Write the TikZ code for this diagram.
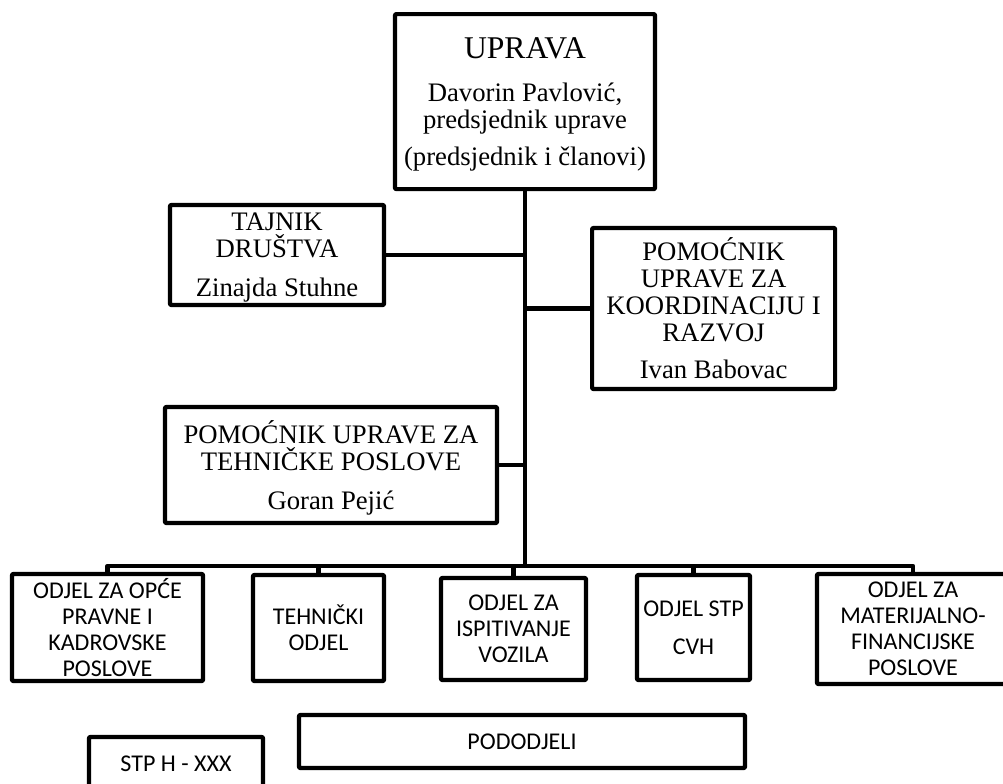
\documentclass[tikz,border=0pt]{standalone}
\usepackage{fontspec}
\setmainfont{Liberation Serif}
\newfontfamily\calibri{Carlito}
\usepackage{tikz}
\usetikzlibrary{shapes}
\pgfdeclarelayer{edgelayer}
\pgfdeclarelayer{nodelayer}
\pgfsetlayers{edgelayer,nodelayer,main}
\newcommand{\tnrfont}{\fontsize{19}{19.2}\selectfont}
\newcommand{\calfont}{\calibri\fontsize{17.1}{18.5}\selectfont}
\tikzstyle{none}=[inner sep=0pt]
\tikzstyle{upbox}=[draw, line width=2.9pt, line join=round, rounded corners=0.6pt, font=\tnrfont, align=center, inner sep=0pt, text depth=0pt]
\tikzstyle{odbox}=[draw, line width=2.9pt, line join=round, rounded corners=0.6pt, font=\calfont, align=center, inner sep=0pt, text depth=0pt]
\tikzstyle{edge}=[line width=3.4pt, line join=round]

\begin{document}
\begin{tikzpicture}
	\useasboundingbox (0, 0) rectangle (25.075, -19.6);
	\begin{pgfonlayer}{nodelayer}
		\node [style=upbox, minimum width=6.5cm, minimum height=4.375cm] (1) at (13.125, -2.54) {{\fontsize{22.5}{23}\selectfont UPRAVA}\\[11.4pt]Davorin Pavlović,\\predsjednik uprave\\[7.4pt](predsjednik i članovi)};
		\node [style=upbox, minimum width=5.35cm, minimum height=2.5cm] (2) at (6.925, -6.375) {TAJNIK\\DRUŠTVA\\[8.7pt]Zinajda Stuhne};
		\node [style=upbox, minimum width=6.075cm, minimum height=4.025cm] (3) at (17.84, -7.7125) {POMOĆNIK\\UPRAVE ZA\\KOORDINACIJU I\\RAZVOJ\\[7.1pt]Ivan Babovac};
		\node [style=upbox, minimum width=8.3cm, minimum height=2.9cm] (4) at (8.275, -11.625) {POMOĆNIK UPRAVE ZA\\TEHNIČKE POSLOVE\\[8.3pt]Goran Pejić};
		\node [style=odbox, minimum width=4.775cm, minimum height=2.675cm] (5) at (2.6875, -15.6875) {ODJEL ZA OPĆE\\PRAVNE I\\KADROVSKE\\POSLOVE};
		\node [style=odbox, minimum width=3.275cm, minimum height=2.65cm] (6) at (7.9625, -15.7) {TEHNIČKI\\ODJEL};
		\node [style=odbox, minimum width=3.625cm, minimum height=2.55cm] (7) at (12.8375, -15.725) {ODJEL ZA\\ISPITIVANJE\\VOZILA};
		\node [style=odbox, minimum width=2.825cm, minimum height=2.625cm] (8) at (17.3375, -15.6875) {ODJEL STP\\[8.7pt]CVH};
		\node [style=odbox, minimum width=4.8cm, minimum height=2.75cm] (9) at (22.825, -15.725) {ODJEL ZA\\MATERIJALNO-\\FINANCIJSKE\\POSLOVE};
		\node [style=odbox, minimum width=11.15cm, minimum height=1.325cm] (10) at (13.05, -18.5375) {PODODJELI};
		\node [style=odbox, minimum width=4.35cm, minimum height=1.325cm] (11) at (4.4, -19.0875) {STP H - XXX};
		\node [style=none] (12) at (13.125, -14.15) {};
	\end{pgfonlayer}
	\begin{pgfonlayer}{edgelayer}
		\draw [style=edge] (1.south) to (12.center);
		\draw [style=edge] (2.east) to (2.east -| 12.center);
		\draw [style=edge] (3.west) to (3.west -| 12.center);
		\draw [style=edge] (4.east) to (4.east -| 12.center);
		\draw [style=edge] (5.north) |- (12.center) -| (9.north);
		\foreach \n in {6,7,8}
			\draw [style=edge] (\n.north) to (\n.north |- 12.center);
	\end{pgfonlayer}
\end{tikzpicture}
\end{document}
